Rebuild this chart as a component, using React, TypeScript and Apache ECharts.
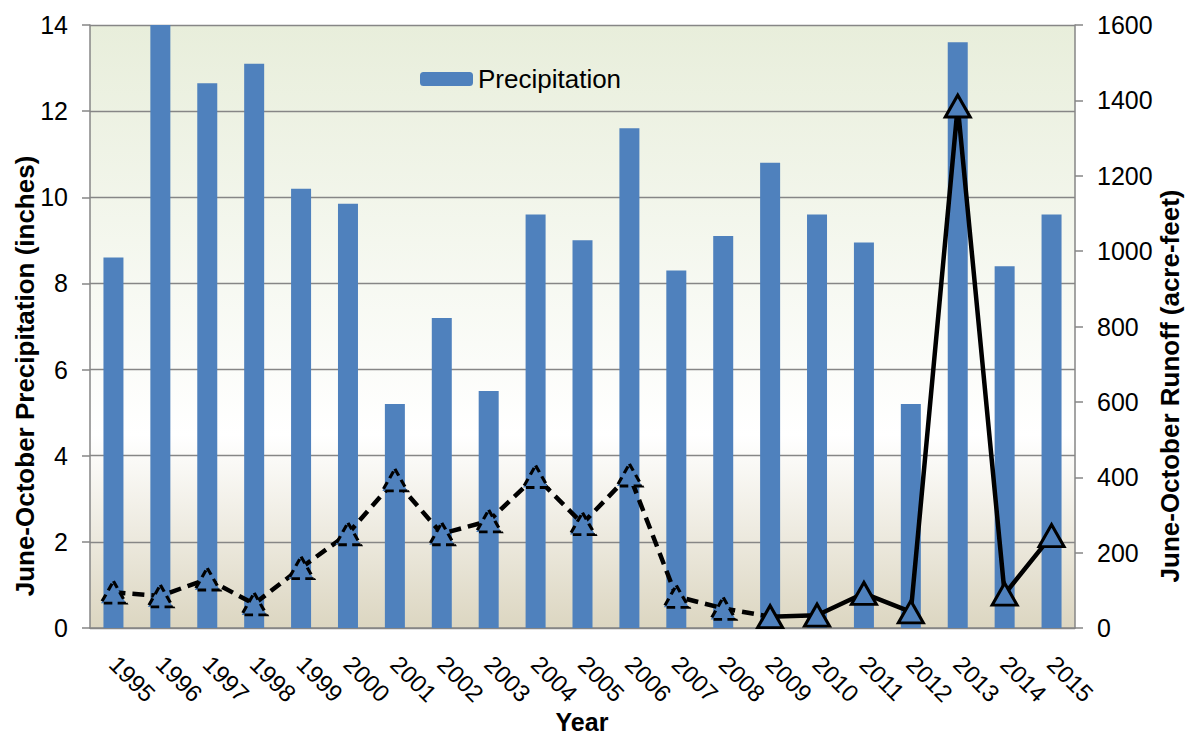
import React, { useEffect, useRef } from "react";
import * as echarts from "echarts";

const years = ["1995","1996","1997","1998","1999","2000","2001","2002","2003","2004","2005","2006","2007","2008","2009","2010","2011","2012","2013","2014","2015"];
const precipitation = [8.6, 14.0, 12.65, 13.1, 10.2, 9.85, 5.2, 7.2, 5.5, 9.6, 9.0, 11.6, 8.3, 9.1, 10.8, 9.6, 8.95, 5.2, 13.6, 8.4, 9.6];
const runoff = [95, 85, 130, 64, 160, 250, 393, 250, 284, 402, 277, 406, 84, 52, 30, 34, 92, 43, 1385, 90, 245];
const solidFromYear = "2009";
const leftTicks = { min: 0, max: 14, interval: 2 };
const rightTicks = { min: 0, max: 1600, interval: 200 };
const leftTitle = "June-October Precipitation (inches)";
const rightTitle = "June-October Runoff (acre-feet)";
const xTitle = "Year";

export default function App() {
  const ref = useRef<HTMLDivElement>(null);
  useEffect(() => {
    if (!ref.current) return;
    const chart = echarts.init(ref.current, undefined, { renderer: "svg" });
    const splitIdx = years.indexOf(solidFromYear);
    const font = "'Liberation Sans', Arial, sans-serif";
    const blue = "#4F81BD";
    const axisGray = "#868686";
    const dashedData = runoff.map((v, i) =>
      i < splitIdx ? v : i === splitIdx ? { value: v, symbol: "none" } : null
    );
    const solidData = runoff.map((v, i) => (i >= splitIdx ? v : null));
    const title = (text: string, x: number, y: number, rotation: number, size: number) => ({
      type: "text",
      x,
      y,
      rotation,
      style: {
        text,
        fontSize: size,
        fontWeight: "bold",
        fontFamily: font,
        fill: "#000",
        align: "center",
        verticalAlign: "middle",
        textAlign: "center",
        textVerticalAlign: "middle",
      },
    });
    chart.setOption({
      animation: false,
      textStyle: { fontFamily: font },
      grid: {
        left: 90,
        right: 110,
        top: 25,
        bottom: 110,
        outerBoundsMode: "none",
        containLabel: false,
        show: true,
        borderWidth: 0,
        backgroundColor: new echarts.graphic.LinearGradient(0, 0, 0, 1, [
          { offset: 0, color: "#E8EEDB" },
          { offset: 0.68, color: "#FFFFFF" },
          { offset: 1, color: "#DCD6C1" },
        ]),
      },
      graphic: [
        title(leftTitle, 25, 376, Math.PI / 2, 26),
        title(rightTitle, 1170, 386, Math.PI / 2, 26),
        title(xTitle, 582, 722, 0, 25),
      ],
      legend: {
        data: ["Precipitation"],
        left: 415,
        top: 61,
        itemWidth: 53,
        itemHeight: 14,
        itemGap: 6,
        textStyle: { fontSize: 26, color: "#000", fontFamily: font },
      },
      xAxis: {
        type: "category",
        data: years,
        axisLine: { lineStyle: { color: axisGray, width: 1.5 } },
        axisTick: { length: 8, lineStyle: { color: axisGray, width: 1.5 } },
        axisLabel: { rotate: -45, fontSize: 24, color: "#000", margin: 32, interval: 0, fontFamily: font },
      },
      yAxis: [
        {
          type: "value",
          min: leftTicks.min,
          max: leftTicks.max,
          interval: leftTicks.interval,
          axisLine: { show: true, lineStyle: { color: axisGray, width: 1.5 } },
          axisTick: { show: true, length: 8, lineStyle: { color: axisGray, width: 1.5 } },
          axisLabel: { fontSize: 25, color: "#000", margin: 22, fontFamily: font },
          splitLine: { show: true, lineStyle: { color: axisGray, width: 1.3 } },
        },
        {
          type: "value",
          min: rightTicks.min,
          max: rightTicks.max,
          interval: rightTicks.interval,
          position: "right",
          axisLine: { show: true, lineStyle: { color: axisGray, width: 1.5 } },
          axisTick: { show: true, length: 8, lineStyle: { color: axisGray, width: 1.5 } },
          axisLabel: {
            fontSize: 25,
            color: "#000",
            margin: 22,
            fontFamily: font,
            formatter: (v: number) => String(v),
          },
          splitLine: { show: false },
        },
      ],
      series: [
        {
          name: "Precipitation",
          type: "bar",
          data: precipitation,
          barWidth: 20,
          itemStyle: { color: blue },
          z: 2,
        },
        {
          name: "Runoff (dashed)",
          type: "line",
          yAxisIndex: 1,
          data: dashedData,
          symbol: "triangle",
          symbolSize: [25, 22],
          showAllSymbol: true,
          lineStyle: { color: "#000", width: 4.5, type: [12, 7] },
          itemStyle: { color: blue, borderColor: "#000", borderWidth: 3, borderType: [8, 5] },
          z: 3,
        },
        {
          name: "Runoff (solid)",
          type: "line",
          yAxisIndex: 1,
          data: solidData,
          symbol: "triangle",
          symbolSize: [25, 22],
          showAllSymbol: true,
          lineStyle: { color: "#000", width: 4.5 },
          itemStyle: { color: blue, borderColor: "#000", borderWidth: 3 },
          z: 4,
        },
      ],
    });
    return () => chart.dispose();
  }, []);
  return (
    <div
      ref={ref}
      style={{ position: "fixed", left: 0, top: 0, width: 1185, height: 738, background: "#fff" }}
    />
  );
}
